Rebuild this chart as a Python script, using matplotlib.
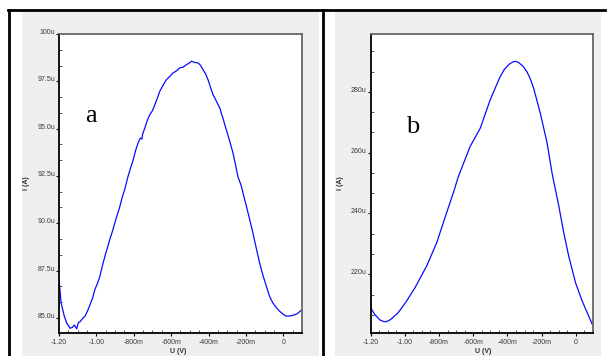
import matplotlib
matplotlib.use("Agg")
import matplotlib.pyplot as plt
from matplotlib.patches import Rectangle
from matplotlib.lines import Line2D
from matplotlib.ticker import FixedLocator, FixedFormatter, AutoMinorLocator

# ---------------- data ----------------
# panel a
va_x = [-1.2, -1.189, -1.172, -1.159, -1.150, -1.141, -1.128, -1.118, -1.105, -1.097, -1.088,
        -1.075, -1.061, -1.048, -1.034, -1.020, -1.008, -0.995, -0.981, -0.968, -0.954, -0.941,
        -0.928, -0.915, -0.901, -0.888, -0.874, -0.861, -0.848, -0.830, -0.816, -0.803, -0.790,
        -0.777, -0.765, -0.756, -0.753, -0.741, -0.727, -0.714, -0.700, -0.687, -0.674, -0.661,
        -0.643, -0.625, -0.608, -0.590, -0.572, -0.554, -0.536, -0.518, -0.505, -0.492, -0.474,
        -0.456, -0.443, -0.430, -0.416, -0.403, -0.390, -0.376, -0.358, -0.340, -0.323, -0.305,
        -0.287, -0.269, -0.256, -0.243, -0.225, -0.212, -0.198, -0.180, -0.163, -0.145, -0.127,
        -0.109, -0.091, -0.074, -0.056, -0.038, -0.020, -0.002, 0.016, 0.034, 0.051, 0.075, 0.097]
va_y = [87.05, 85.80, 85.10, 84.73, 84.60, 84.45, 84.50, 84.62, 84.42, 84.75, 84.79,
        84.95, 85.09, 85.35, 85.70, 86.05, 86.50, 86.80, 87.20, 87.75, 88.27, 88.70,
        89.15, 89.55, 90.03, 90.45, 90.90, 91.40, 91.80, 92.50, 92.95, 93.35, 93.85,
        94.24, 94.50, 94.45, 94.70, 95.03, 95.45, 95.74, 95.95, 96.27, 96.60, 96.97,
        97.30, 97.59, 97.75, 97.94, 98.05, 98.21, 98.25, 98.38, 98.45, 98.56, 98.50,
        98.47, 98.35, 98.12, 97.90, 97.59, 97.20, 96.79, 96.45, 96.09, 95.55, 94.94,
        94.35, 93.70, 93.10, 92.47, 91.98, 91.45, 90.92, 90.20, 89.50, 88.70, 87.91,
        87.25, 86.68, 86.15, 85.79, 85.55, 85.35, 85.20, 85.09, 85.10, 85.13, 85.22, 85.41]

# panel b
vb_x = [-1.2, -1.194, -1.175, -1.145, -1.125, -1.110, -1.092, -1.077, -1.038, -0.989, -0.940,
        -0.872, -0.813, -0.755, -0.716, -0.687, -0.618, -0.559, -0.501, -0.470, -0.442, -0.420,
        -0.403, -0.384, -0.364, -0.350, -0.335, -0.310, -0.286, -0.266, -0.247, -0.208, -0.168,
        -0.139, -0.100, -0.071, -0.042, -0.002, 0.037, 0.066, 0.105]
vb_y = [212.3, 208.5, 206.8, 205.0, 204.5, 204.4, 204.8, 205.4, 207.4, 211.2, 215.6,
        222.7, 230.4, 240.3, 246.8, 252.1, 262.0, 268.0, 277.3, 281.4, 285.0, 287.2,
        288.3, 289.3, 289.9, 290.0, 289.6, 288.5, 286.6, 284.2, 281.2, 273.0, 263.1,
        253.2, 242.5, 233.7, 226.0, 217.2, 211.2, 207.4, 202.4]

x_ticks = [-1.2, -1.0, -0.8, -0.6, -0.4, -0.2, 0.0]
x_labels = ["-1.20", "-1.00", "-800m", "-600m", "-400m", "-200m", "0"]
ya_ticks = [85.0, 87.5, 90.0, 92.5, 95.0, 97.5, 100.0]
ya_labels = ["85.0u", "87.5u", "90.0u", "92.5u", "95.0u", "97.5u", "100u"]
yb_ticks = [220, 240, 260, 280]
yb_labels = ["220u", "240u", "260u", "280u"]

# ---------------- figure ----------------
W, H = 611, 356
fig = plt.figure(figsize=(W / 100, H / 100), dpi=100)
fig.patch.set_facecolor("white")


def fx(px):
    return px / W


def fy(py):
    return 1 - py / H


def rect(x0, y0, x1, y1, **kw):
    fig.patches.append(Rectangle((fx(x0), fy(y1)), fx(x1) - fx(x0), fy(y0) - fy(y1),
                                 transform=fig.transFigure, figure=fig, **kw))


# gray panels
rect(22, 11, 319, 356, facecolor="#efefef", edgecolor="none", zorder=-5)
rect(335, 11, 601, 356, facecolor="#efefef", edgecolor="none", zorder=-5)

# table borders
for (x0, y0, x1, y1) in [(9, 9.5, 9, 356), (8, 9.5, 605, 9.5), (322.5, 9.5, 322.5, 356)]:
    fig.lines.append(Line2D([fx(x0), fx(x1)], [fy(y0), fy(y1)], transform=fig.transFigure,
                            color="black", lw=2.0, figure=fig, zorder=-4))


def setup(ax, xs, ys, yt, yl, ylim, txt, txt_xy):
    ax.set_facecolor("white")
    ax.plot(xs, ys, color="#0a0aff", lw=0.9)
    ax.set_xlim(-1.2, 0.1)
    ax.set_ylim(*ylim)
    ax.xaxis.set_major_locator(FixedLocator(x_ticks))
    ax.xaxis.set_major_formatter(FixedFormatter(x_labels))
    ax.yaxis.set_major_locator(FixedLocator(yt))
    ax.yaxis.set_major_formatter(FixedFormatter(yl))
    ax.xaxis.set_minor_locator(AutoMinorLocator(4))
    ax.yaxis.set_minor_locator(AutoMinorLocator(3))
    ax.tick_params(which="major", direction="out", length=2.5, width=0.8, pad=1.5,
                   labelsize=5, labelcolor="#3a3a3a", color="black")
    ax.tick_params(which="minor", direction="in", length=2.0, width=0.6, color="#333333")
    ax.tick_params(axis="y", which="major", pad=0.3)
    for lbl in ax.get_xticklabels() + ax.get_yticklabels():
        lbl.set_family("Liberation Sans")
    for lbl in ax.get_yticklabels():
        lbl.set_verticalalignment("baseline")
    for s in ["left", "bottom"]:
        ax.spines[s].set_color("black")
        ax.spines[s].set_linewidth(1.3)
    for s in ["top", "right"]:
        ax.spines[s].set_color("#666666")
        ax.spines[s].set_linewidth(1.3)
    fig.text(*txt_xy, txt, family="Liberation Serif",
             fontsize=19, color="black", ha="center", va="center")


ax1 = fig.add_axes([fx(59), fy(333), fx(302) - fx(59), fy(34) - fy(333)])
setup(ax1, va_x, va_y, ya_ticks, ya_labels, (84.2, 100.0), "a", (fx(91), fy(116)))
ax2 = fig.add_axes([fx(370.5), fy(333), fx(593) - fx(370.5), fy(34) - fy(333)])
setup(ax2, vb_x, vb_y, yb_ticks, yb_labels, (200.7, 299.0), "b", (fx(413), fy(127)))

lab = dict(family="Liberation Sans", fontsize=5, fontweight="bold", color="#333333",
           ha="center", va="center")
fig.text(fx(27), fy(183.5), "I (A)", rotation=90, **lab)
fig.text(fx(341), fy(183.5), "I (A)", rotation=90, **lab)
fig.text(fx(178), fy(351.5), "U (V)", **lab)
fig.text(fx(483), fy(351.5), "U (V)", **lab)

fig.savefig("out.png", dpi=100)
